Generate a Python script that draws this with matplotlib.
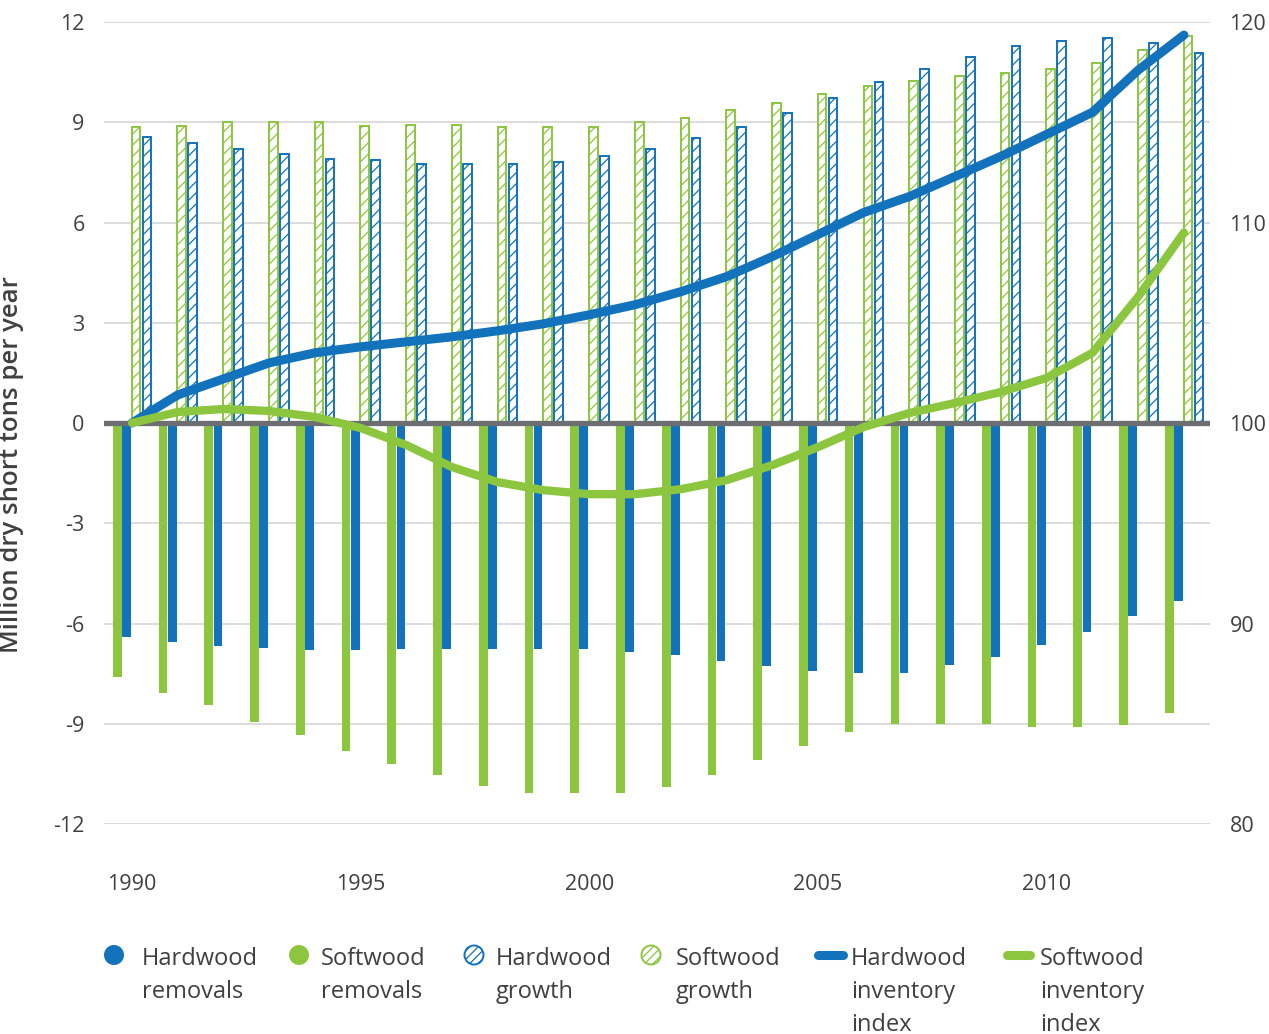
# Imported Libraries
import numpy as np
import matplotlib
matplotlib.use("Agg")
import matplotlib.pyplot as plt
import matplotlib.patches as mpatches
from matplotlib.lines import Line2D

# Chart data (million dry short tons per year / index, 1990 = 100)
years = list(range(1990, 2014))
hw_removals = [-6.40, -6.55, -6.66, -6.72, -6.80, -6.80, -6.77, -6.77, -6.77, -6.77, -6.77, -6.86,
               -6.95, -7.13, -7.28, -7.43, -7.49, -7.49, -7.25, -7.01, -6.65, -6.25, -5.78, -5.32]
sw_removals = [-7.61, -8.07, -8.45, -8.94, -9.33, -9.82, -10.21, -10.54, -10.85, -11.06, -11.06, -11.06,
               -10.88, -10.54, -10.09, -9.67, -9.24, -9.00, -9.00, -9.00, -9.09, -9.09, -9.03, -8.67]
hw_growth = [8.57, 8.37, 8.21, 8.06, 7.91, 7.86, 7.76, 7.76, 7.76, 7.82, 7.98, 8.19,
             8.52, 8.85, 9.27, 9.73, 10.21, 10.60, 10.96, 11.28, 11.43, 11.51, 11.38, 11.06]
sw_growth = [8.85, 8.90, 9.00, 9.00, 9.00, 8.90, 8.91, 8.91, 8.85, 8.85, 8.85, 9.00,
             9.12, 9.37, 9.58, 9.85, 10.09, 10.23, 10.39, 10.48, 10.58, 10.78, 11.15, 11.59]
hw_index = [100.0, 101.4, 102.2, 103.0, 103.5, 103.8, 104.05, 104.3, 104.6, 104.95, 105.4, 105.9,
            106.55, 107.3, 108.3, 109.4, 110.5, 111.3, 112.3, 113.3, 114.4, 115.5, 117.6, 119.35]
sw_index = [100.0, 100.55, 100.7, 100.6, 100.3, 99.75, 98.9, 97.8, 97.05, 96.65, 96.45, 96.45,
            96.7, 97.15, 97.9, 98.8, 99.8, 100.5, 101.0, 101.55, 102.25, 103.5, 106.3, 109.5]

left_ticks = [-12, -9, -6, -3, 0, 3, 6, 9, 12]
right_ticks = [80, 90, 100, 110, 120]
year_ticks = [1990, 1995, 2000, 2005, 2010]
legend_labels = ["Hardwood\nremovals", "Softwood\nremovals", "Hardwood\ngrowth",
                 "Softwood\ngrowth", "Hardwood\ninventory\nindex", "Softwood\ninventory\nindex"]

# Style
BLUE = "#1272bb"
GREEN = "#8cc63f"
TEXT = "#404041"
GRID = "#dcdcdc"
plt.rcParams['font.family'] = ['Open Sans', 'DejaVu Sans']
plt.rcParams['hatch.linewidth'] = 0.9

fig = plt.figure(figsize=(12.69, 10.34), dpi=100)
ax = fig.add_axes([0.082, 0.2031, 0.8715, 0.7756])
ax2 = ax.twinx()

x = np.array(years, dtype=float)
bw = 0.19

# Removal bars (solid) and growth bars (hatched)
ax.bar(x - 0.32, sw_removals, bw, color=GREEN, linewidth=0, zorder=2)
ax.bar(x - 0.12, hw_removals, bw, color=BLUE, linewidth=0, zorder=2)
ax.bar(x + 0.09, sw_growth, bw, facecolor="white", edgecolor=GREEN, hatch="///", linewidth=1.4, zorder=2)
ax.bar(x + 0.33, hw_growth, bw, facecolor="white", edgecolor=BLUE, hatch="///", linewidth=1.4, zorder=2)

# Zero line
ax.axhline(0, color="#6d6e71", linewidth=3.8, zorder=3)

# Inventory index lines on the right axis
ax2.plot(x, hw_index, color=BLUE, linewidth=6.5, solid_capstyle="round", solid_joinstyle="round", zorder=4)
ax2.plot(x, sw_index, color=GREEN, linewidth=6, solid_capstyle="round", solid_joinstyle="round", zorder=4)

# Axes limits and ticks
ax.set_xlim(1989.39, 2013.57)
ax.set_ylim(-12, 12)
ax2.set_ylim(80, 120)
ax.set_yticks(left_ticks)
ax.set_yticklabels([str(t) for t in left_ticks])
ax2.set_yticks(right_ticks)
ax.set_xticks(year_ticks)
ax.set_xticklabels([str(t) for t in year_ticks])
ax.grid(axis="y", color=GRID, linewidth=1.4, zorder=0)
ax.set_axisbelow(True)

for a in (ax, ax2):
    for s in a.spines.values():
        s.set_visible(False)
    a.tick_params(length=0, labelsize=15.5, labelcolor=TEXT)
ax.tick_params(axis="y", pad=14)
ax.tick_params(axis="x", pad=36)
ax2.tick_params(axis="y", pad=14)

ax.set_ylabel("Million dry short tons per year", fontsize=18.5, fontweight="semibold", color=TEXT)
ax.yaxis.set_label_coords(-0.0725, 0.448)

# Legend (drawn by hand, positions in inches from the bottom-left)
tr = fig.dpi_scale_trans
leg_y = (1034 - 955) / 100
handles = [
    mpatches.Circle((1.14, leg_y), 0.10, facecolor=BLUE, edgecolor="none", transform=tr),
    mpatches.Circle((2.99, leg_y), 0.10, facecolor=GREEN, edgecolor="none", transform=tr),
    mpatches.Circle((4.74, leg_y), 0.095, facecolor="white", edgecolor=BLUE, hatch="////", linewidth=1.4, transform=tr),
    mpatches.Circle((6.51, leg_y), 0.095, facecolor="white", edgecolor=GREEN, hatch="////", linewidth=1.4, transform=tr),
    Line2D([8.18, 8.43], [leg_y, leg_y], color=BLUE, linewidth=6.5, solid_capstyle="round", transform=tr),
    Line2D([10.07, 10.30], [leg_y, leg_y], color=GREEN, linewidth=6.5, solid_capstyle="round", transform=tr),
]
for h in handles:
    fig.add_artist(h)

text_x = [1.42, 3.21, 4.96, 6.76, 8.51, 10.40]
for tx, lab in zip(text_x, legend_labels):
    fig.text(tx, (1034 - 947) / 100, lab, transform=tr, fontsize=17, color=TEXT,
             va="top", ha="left", linespacing=1.5)

fig.savefig("out.png", dpi=100)
